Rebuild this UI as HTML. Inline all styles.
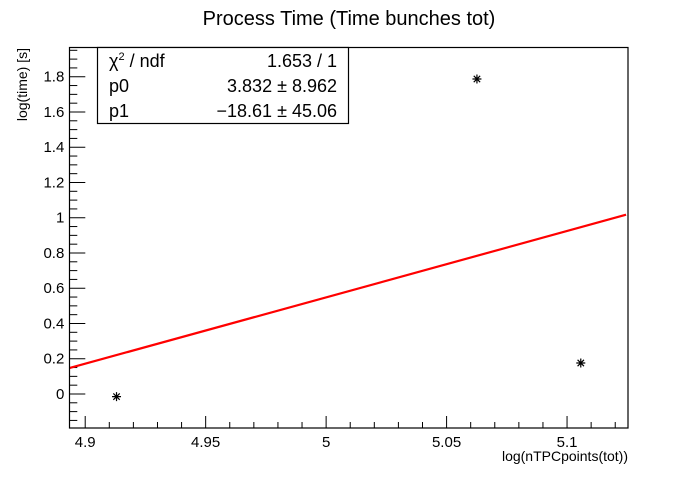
<!DOCTYPE html>
<html><head><meta charset="utf-8"><style>
html,body{margin:0;padding:0;background:#fff;}
svg text{font-family:"Liberation Sans",Arial,sans-serif;}
</style></head><body>
<svg id="chart" width="698" height="476" viewBox="0 0 698 476" xmlns="http://www.w3.org/2000/svg">
<rect x="0" y="0" width="698" height="476" fill="#fff"/>
<text x="349" y="25" font-size="20" text-anchor="middle">Process Time (Time bunches tot)</text>
<g id="axes"></g>
<g id="marks"></g>
<rect x="69.5" y="47.5" width="558.5" height="380.5" fill="none" stroke="#000" stroke-width="1.2"/>
<text transform="translate(27,48) rotate(-90)" font-size="14" text-anchor="end">log(time) [s]</text>
<text x="628" y="461" font-size="14" text-anchor="end">log(nTPCpoints(tot))</text>
<g>
<rect x="97.5" y="47.5" width="251" height="76" fill="#fff" stroke="#000" stroke-width="1.2"/>
<text x="109" y="67" font-size="18">χ<tspan font-size="11" dy="-7">2</tspan><tspan dy="7"> / ndf</tspan></text>
<text x="337" y="67" font-size="18" text-anchor="end">1.653 / 1</text>
<text x="109" y="92" font-size="18">p0</text>
<text x="337" y="92" font-size="18" text-anchor="end">3.832 ± 8.962</text>
<text x="109" y="117" font-size="18">p1</text>
<text x="337" y="117" font-size="18" text-anchor="end">−18.61 ± 45.06</text>
</g>
</svg>
<script>
const pointX = [4.913, 5.0626, 5.1057];
const pointY = [-0.015, 1.787, 0.176];
const fitX = [4.8934, 5.1245];
const fitY = [0.147, 1.017];
const xTickLabels = ["4.9","4.95","5","5.05","5.1"];
const yTickLabels = ["0","0.2","0.4","0.6","0.8","1","1.2","1.4","1.6","1.8"];

const X0=69.3, X1=628, Y0=428, Y1=47.3;
const xmin=4.8934, xmax=5.1253, ymin=-0.193, ymax=1.967;
const sx=v=>X0+(v-xmin)/(xmax-xmin)*(X1-X0);
const sy=v=>Y0-(v-ymin)/(ymax-ymin)*(Y0-Y1);
const NS="http://www.w3.org/2000/svg";
const axes=document.getElementById('axes'), marks=document.getElementById('marks');
function mk(tag,attrs,parent){const e=document.createElementNS(NS,tag);for(const k in attrs)e.setAttribute(k,attrs[k]);parent.appendChild(e);return e;}

// x ticks
for(let i=0;i<=23;i++){
  const v=4.9+i*0.01; if(v>xmax) break;
  const major = i%5===0;
  const t=mk('line',{x1:sx(v),x2:sx(v),y1:Y0,y2:Y0-(major?12:6),stroke:'#000','stroke-width':1},axes);
  
  
}
xTickLabels.forEach(s=>{
  const t=mk('text',{x:sx(parseFloat(s)),y:Y0+19,'font-size':15,'text-anchor':'middle'},axes);
  t.textContent=s;
  
  
});
// y ticks
for(let i=-3;i<=39;i++){
  const v=i*0.05; if(v<ymin||v>ymax) continue;
  const major = i%4===0;
  const t=mk('line',{x1:X0,x2:X0+(major?16:8),y1:sy(v),y2:sy(v),stroke:'#000','stroke-width':1},axes);
  
  
}
yTickLabels.forEach(s=>{
  const t=mk('text',{x:X0-5,y:sy(parseFloat(s))+5,'font-size':15,'text-anchor':'end'},axes);
  t.textContent=s;
  
  
});
// fit line
const fl=mk('line',{x1:sx(fitX[0]),y1:sy(fitY[0]),x2:sx(fitX[1]),y2:sy(fitY[1]),stroke:'#f00','stroke-width':2.2},marks);


// points
pointX.forEach((x,i)=>{
  const cx=sx(x), cy=sy(pointY[i]);
  const g=mk('g',{},marks);
  
  
  const r=4.5,d=3.2;
  mk('path',{d:`M${cx-r},${cy}H${cx+r}M${cx},${cy-r}V${cy+r}M${cx-d},${cy-d}L${cx+d},${cy+d}M${cx-d},${cy+d}L${cx+d},${cy-d}`,stroke:'#000','stroke-width':1.2},g);
});
</script>
</body></html>
